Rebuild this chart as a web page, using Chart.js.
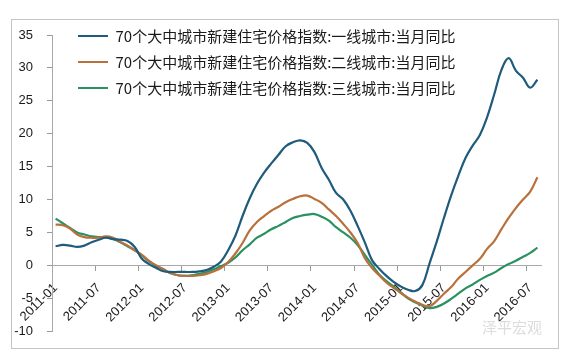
<!DOCTYPE html>
<html><head><meta charset="utf-8">
<script src="https://cdn.jsdelivr.net/npm/chart.js@4.4.1/dist/chart.umd.min.js"></script>
<style>
html,body{margin:0;padding:0;background:#fff;}
#wrap{position:relative;width:569px;height:353px;overflow:hidden;}
#frame{position:absolute;left:11px;top:19px;width:546px;height:328px;border:1px solid #c4c4c4;}
#wm{position:absolute;left:482px;top:316px;font:15px "Noto Sans CJK SC";color:#dcdcdc;}
canvas{position:absolute;left:0;top:0;}
</style></head><body>
<div id="wrap"><div id="frame"></div><canvas id="c" width="569" height="353"></canvas><div id="wm">泽平宏观</div></div>
<script>
const months = [
 '2011-01','2011-02','2011-03','2011-04','2011-05','2011-06','2011-07','2011-08','2011-09','2011-10','2011-11','2011-12',
 '2012-01','2012-02','2012-03','2012-04','2012-05','2012-06','2012-07','2012-08','2012-09','2012-10','2012-11','2012-12',
 '2013-01','2013-02','2013-03','2013-04','2013-05','2013-06','2013-07','2013-08','2013-09','2013-10','2013-11','2013-12',
 '2014-01','2014-02','2014-03','2014-04','2014-05','2014-06','2014-07','2014-08','2014-09','2014-10','2014-11','2014-12',
 '2015-01','2015-02','2015-03','2015-04','2015-05','2015-06','2015-07','2015-08','2015-09','2015-10','2015-11','2015-12',
 '2016-01','2016-02','2016-03','2016-04','2016-05','2016-06','2016-07','2016-08'];
const tickLabels = ['2011-01','2011-07','2012-01','2012-07','2013-01','2013-07','2014-01','2014-07','2015-01','2015-07','2016-01','2016-07'];
const seriesNames = [
 '70个大中城市新建住宅价格指数:一线城市:当月同比',
 '70个大中城市新建住宅价格指数:二线城市:当月同比',
 '70个大中城市新建住宅价格指数:三线城市:当月同比'];
const tier1 = [2.9,3.1,3.0,2.8,3.0,3.5,3.9,4.2,4.0,3.9,
 3.7,2.8,1.0,0.2,-0.4,-0.9,-1.0,-1.0,-1.0,-1.0,
 -0.9,-0.7,-0.2,0.6,2.3,4.5,7.5,10.2,12.4,14.1,
 15.5,16.8,18.1,18.7,19.0,18.6,17.2,14.8,13.0,11.0,
 10.0,8.3,6.0,3.5,0.8,-0.5,-1.6,-2.5,-3.2,-3.7,
 -3.9,-3.0,0.3,3.6,7.2,10.6,13.6,16.3,18.2,19.8,
 22.5,26.0,29.7,31.5,29.6,28.5,27.0,28.2];
const tier2 = [6.2,6.1,5.6,4.7,4.3,4.2,4.2,4.4,4.2,3.6,
 3.0,2.3,1.6,0.7,0.0,-0.6,-1.2,-1.5,-1.6,-1.6,
 -1.5,-1.3,-0.9,-0.4,0.5,1.8,3.4,5.3,6.6,7.5,
 8.3,8.9,9.6,10.1,10.5,10.6,10.1,9.5,8.5,7.5,
 6.3,5.0,3.4,1.1,-0.4,-1.5,-2.6,-3.4,-4.2,-4.9,
 -5.5,-6.0,-6.2,-5.4,-4.3,-3.3,-2.0,-1.0,0.0,1.0,
 2.5,3.7,5.5,7.2,8.7,10.0,11.2,13.4];
const tier3 = [7.1,6.4,5.7,5.0,4.7,4.4,4.3,4.3,4.0,3.5,
 2.9,2.3,1.5,0.6,-0.1,-0.6,-1.2,-1.5,-1.6,-1.5,
 -1.3,-1.0,-0.6,-0.1,0.4,1.2,2.3,3.2,4.2,4.8,
 5.5,6.0,6.6,7.2,7.5,7.7,7.8,7.4,6.8,5.8,
 5.0,4.2,3.1,1.6,0.1,-1.4,-2.4,-3.2,-4.1,-5.0,
 -5.6,-6.1,-6.5,-6.3,-5.8,-5.1,-4.3,-3.5,-2.9,-2.2,
 -1.6,-1.1,-0.4,0.2,0.7,1.3,1.9,2.7];
const colors = ['#1f5b7c','#b8703c','#2a9160'];

const legendShift = {
  id: 'legendShift',
  afterLayout(chart) {
    const l = chart.legend;
    if (l) {
      const h = l.height;
      l.top = chart.chartArea.top - 17.5; l.bottom = l.top + h;
      l.left = chart.chartArea.left + 15; l.right = l.left + l.width;
    }
  }
};

new Chart(document.getElementById('c'), {
  type: 'line',
  data: {
    labels: months,
    datasets: [tier1, tier2, tier3].map((d, k) => ({
      label: seriesNames[k], data: d, borderColor: colors[k], backgroundColor: colors[k],
      borderWidth: 2.2, pointRadius: 0, tension: 0.4, fill: false
    }))
  },
  options: {
    responsive: false, animation: false, devicePixelRatio: 1,
    layout: { padding: { left: 10, top: 35, right: 28, bottom: 21 } },
    plugins: {
      tooltip: { enabled: false },
      legend: {
        position: 'chartArea', align: 'start',
        labels: {
          usePointStyle: true, pointStyle: 'line', pointStyleWidth: 30,
          padding: 11, color: '#1a1a1a',
          font: { family: '"Noto Sans CJK SC"', size: 15 }
        }
      }
    },
    scales: {
      x: {
        type: 'category', offset: true, position: { y: 0 },
        grid: { offset: true, drawOnChartArea: false, drawTicks: true, tickLength: 5,
                color: (ctx) => (ctx.index % 6 === 0 ? '#9a9a9a' : 'rgba(0,0,0,0)') },
        border: { display: true, color: '#a8a8a8', width: 1 },
        ticks: { autoSkip: false, maxRotation: 45, minRotation: 45, padding: 10, color: '#1a1a1a',
                 font: { family: '"Liberation Sans"', size: 13 },
                 callback: (v, i) => (tickLabels.includes(months[i]) ? months[i] : '') }
      },
      y: {
        min: -10, max: 35, position: 'left',
        afterFit: (s) => { s.width = 42; },
        ticks: { stepSize: 5, padding: 14, color: '#1a1a1a', font: { family: '"Liberation Sans"', size: 13 } },
        grid: { drawOnChartArea: false, tickLength: 5, color: '#9a9a9a' },
        border: { color: '#a8a8a8' }
      }
    }
  },
  plugins: [legendShift]
});
</script>
</body></html>
